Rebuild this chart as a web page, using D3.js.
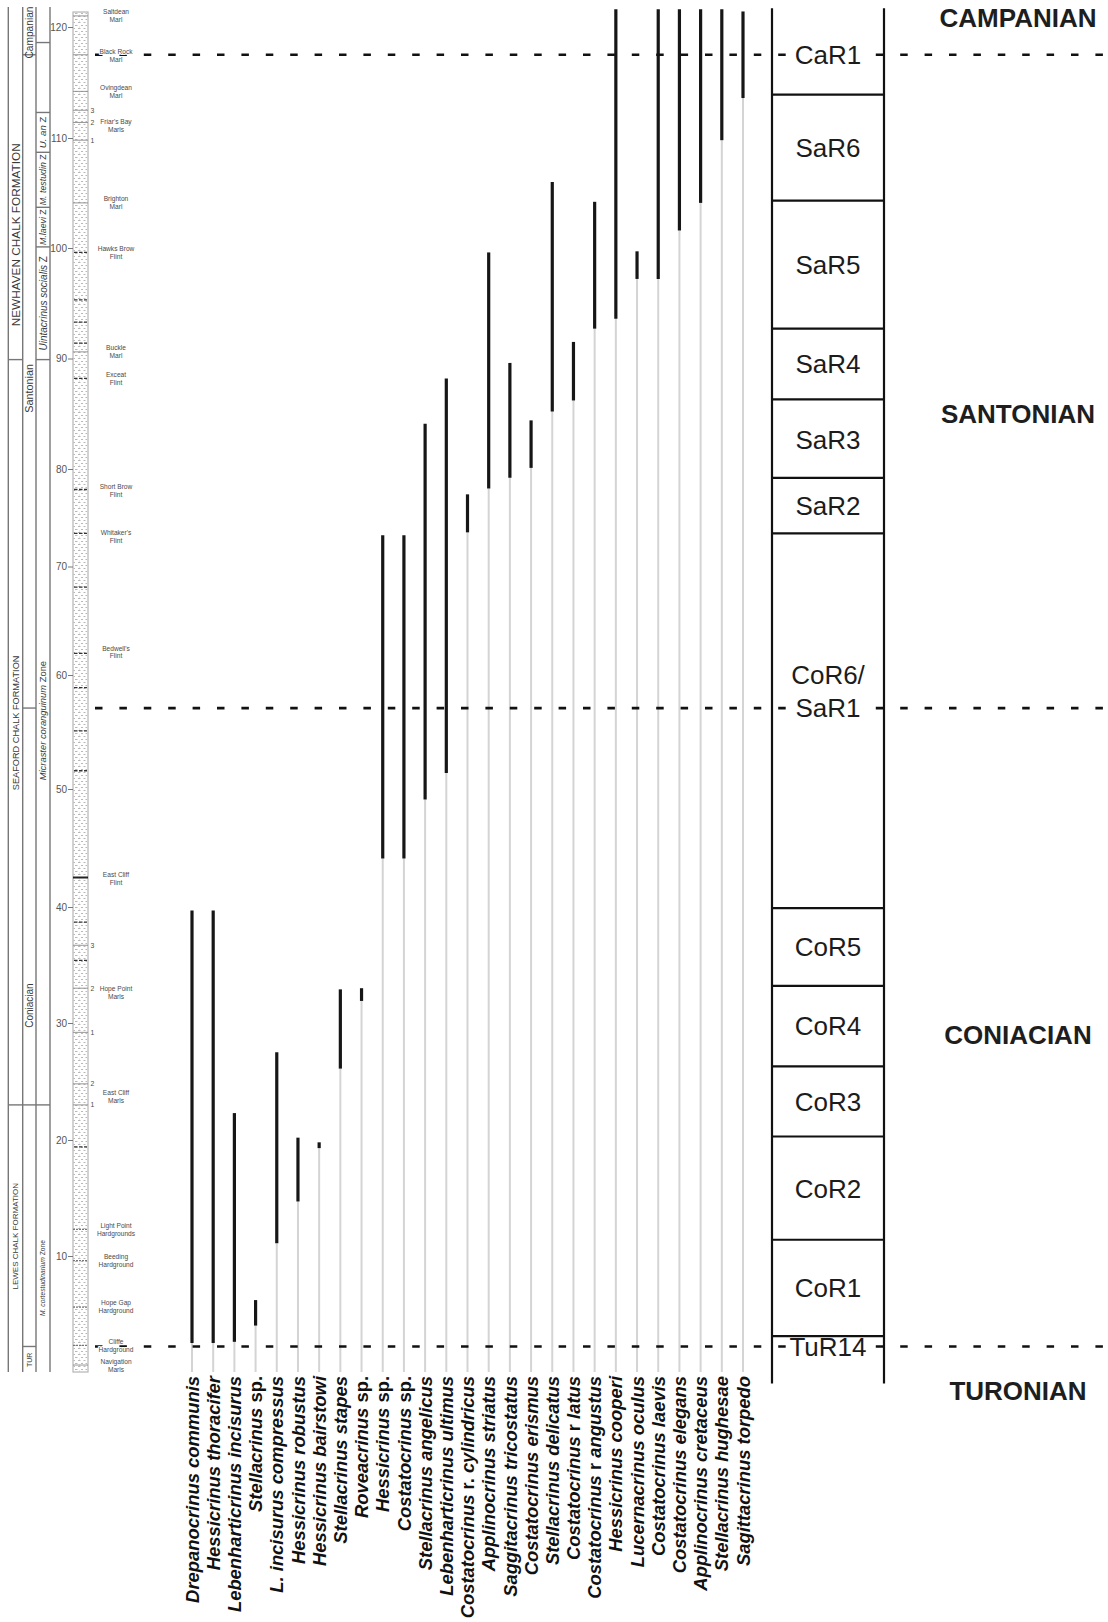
<!DOCTYPE html>
<html>
<head>
<meta charset="utf-8">
<script src="https://cdn.jsdelivr.net/npm/d3@7"></script>
<style>
  html, body { margin: 0; padding: 0; background: #fff; }
  svg { display: block; }
</style>
</head>
<body>
<svg id="chart" width="1108" height="1622"></svg>
<script>
// ---------------------------------------------------------------
// Crinoid range chart, Upper Cretaceous chalk of the Sussex coast
// Depths are metres above the base of the logged section.
// ---------------------------------------------------------------

// Taxa, in range-chart order
const species = [
  "Drepanocrinus communis", "Hessicrinus thoracifer", "Lebenharticrinus incisurus",
  "Stellacrinus sp.", "L. incisurus compressus", "Hessicrinus robustus",
  "Hessicrinus bairstowi", "Stellacrinus stapes", "Roveacrinus sp.",
  "Hessicrinus sp.", "Costatocrinus sp.", "Stellacrinus angelicus",
  "Lebenharticrinus ultimus", "Costatocrinus r. cylindricus", "Applinocrinus striatus",
  "Saggitacrinus tricostatus", "Costatocrinus erismus", "Stellacrinus delicatus",
  "Costatocrinus r latus", "Costatocrinus r angustus", "Hessicrinus cooperi",
  "Lucernacrinus oculus", "Costatocrinus laevis", "Costatocrinus elegans",
  "Applinocrinus cretaceus", "Stellacrinus hughesae", "Sagittacrinus torpedo"
];
// Lowest and highest occurrence of each taxon (m)
const firstOccurrence = [
  2.5, 2.5, 2.6, 4.0, 11.1, 14.7, 19.3, 26.1, 31.9,
  44.1, 44.1, 49.1, 51.4, 73.5, 78.0, 79.1, 80.1, 85.2,
  86.2, 92.7, 93.6, 97.2, 97.2, 101.6, 104.1, 109.8, 113.6
];
const lastOccurrence = [
  39.7, 39.7, 22.3, 6.2, 27.5, 20.2, 19.8, 32.9, 33.0,
  73.2, 73.2, 84.1, 88.2, 77.4, 99.6, 89.6, 84.4, 106.0,
  91.5, 104.2, 121.6, 99.7, 121.6, 121.6, 121.6, 121.6, 121.4
];

// Depth axis
const depthTicks = [0, 10, 20, 30, 40, 50, 60, 70, 80, 90, 100, 110, 120];
const sectionTop = 121.7;
const sectionBase = 0;

// Crinoid biozones (top to bottom) and the base of each
const zoneNames = ["CaR1", "SaR6", "SaR5", "SaR4", "SaR3", "SaR2", "CoR6/SaR1",
                   "CoR5", "CoR4", "CoR3", "CoR2", "CoR1", "TuR14"];
const zoneBases = [113.9, 104.3, 92.7, 86.3, 79.1, 73.4, 39.9,
                   33.2, 26.3, 20.3, 11.4, 3.1, -1.0];

// Stages and stage boundaries
const stageNames = ["CAMPANIAN", "SANTONIAN", "CONIACIAN", "TURONIAN"];
const stageBoundaries = [117.5, 57.1, 2.2];

// Lithostratigraphy and macrofossil zones of the log
const formationNames = ["NEWHAVEN CHALK FORMATION", "SEAFORD CHALK FORMATION", "LEWES CHALK FORMATION"];
const formationBoundaries = [89.9, 23.0];
const logStageNames = ["Campanian", "Santonian", "Coniacian", "TUR"];
const logStageBoundaries = [117.5, 57.1, 23.0, 2.2];
const logZoneNames = ["U. an Z", "M. testudin Z", "M.laevi Z", "Uintacrinus socialis Z",
                      "Micraster coranguinum Zone", "M. cortestudinarium Zone"];
const logZoneBoundaries = [118.6, 112.3, 108.7, 103.7, 100.1, 89.9, 23.0];

// Named marker beds
const bedNames = [
  ["Saltdean", "Marl"], ["Black Rock", "Marl"], ["Ovingdean", "Marl"], ["Friar's Bay", "Marls"],
  ["Brighton", "Marl"], ["Hawks Brow", "Flint"], ["Buckle", "Marl"], ["Exceat", "Flint"],
  ["Short Brow", "Flint"], ["Whitaker's", "Flint"], ["Bedwell's", "Flint"], ["East Cliff", "Flint"],
  ["Hope Point", "Marls"], ["East Cliff", "Marls"], ["Light Point", "Hardgrounds"],
  ["Beeding", "Hardground"], ["Hope Gap", "Hardground"], ["Cliffe", "Hardground"], ["Navigation", "Marls"]
];
const bedDepths = [121.0, 117.4, 114.2, 111.1, 104.1, 99.6, 90.6, 88.2, 77.8, 73.1, 62.1, 42.4,
                   32.6, 23.7, 12.3, 9.6, 5.6, 2.3, 0.55];
// Numbered marl seams within the marl sets
const seamNumbers = ["3", "2", "1", "3", "2", "1", "2", "1"];
const seamDepths = [112.5, 111.4, 109.8, 36.7, 33.0, 29.2, 24.8, 23.0];

// Lithology of the log
const flintDepths = [99.6, 95.3, 93.3, 91.4, 88.2, 77.9, 73.4, 68.1, 62.0, 58.9, 55.1, 51.6,
                     38.7, 35.4, 19.4];
const marlDepths = [121.0, 117.5, 114.2, 112.5, 111.4, 109.8, 104.1, 90.6, 36.7, 33.0, 29.2,
                    24.8, 23.0, 0.6];
const hardgroundDepths = [12.3, 9.6, 5.6, 2.3];
const majorFlintDepths = [42.5];

// ---------------------------------------------------------------
// Layout
// ---------------------------------------------------------------
const W = 1108, H = 1622;
const FONT = "'Liberation Sans', Arial, Helvetica, sans-serif";
const svg = d3.select("#chart");
svg.append("rect").attr("width", W).attr("height", H).attr("fill", "#fff");

// The logged section is drawn at a slightly uneven vertical scale,
// so depth is mapped piecewise through the tick rows of the log.
const tickRows = [1372, 1256, 1140, 1023, 907, 789, 675, 566.5, 469, 358.5, 248, 138, 27];
const y = d3.scaleLinear().domain(depthTicks).range(tickRows);

const x = d3.scalePoint().domain(species).range([192, 743]);

const logX = { formation: [8.3, 22.7], stage: [22.7, 36], zone: [36, 50], lith: [73, 88] };
const zoneCol = [772, 884];
const stageLabelX = 1018;
const stageLabelDepth = [120.8, 85.0, 29.0, -1.6];
const formationLabelDepth = [101.2, 55.8, 11.7];
const formationLabelSize = [11.8, 9.2, 8];
const logStageLabelDepth = [119.5, 87.3, 31.5, 1.05];
const logStageLabelSize = [10.2, 10.8, 10, 7];
const logZoneLabelDepth = [110.5, 106.2, 101.9, 95.0, 56.0, 8.1];
const logZoneLabelSize = [9.6, 8.8, 8.8, 10, 9.4, 6.7];

// ---------------------------------------------------------------
// Left-hand log: formations, stages, macrofossil zones
// ---------------------------------------------------------------
const log = svg.append("g").attr("font-family", FONT);
const colEdges = [logX.formation[0], logX.formation[1], logX.stage[1], logX.zone[1]];
log.selectAll("line.colEdge").data(colEdges).join("line")
  .attr("class", "colEdge")
  .attr("x1", d => d).attr("x2", d => d)
  .attr("y1", 7).attr("y2", y(sectionBase))
  .attr("stroke", "#777").attr("stroke-width", 1.4);

function hLines(cls, depths, span) {
  log.selectAll("line." + cls).data(depths).join("line")
    .attr("class", cls)
    .attr("x1", span[0]).attr("x2", span[1])
    .attr("y1", d => y(d)).attr("y2", d => y(d))
    .attr("stroke", "#777").attr("stroke-width", 1.4);
}
hLines("fmB", formationBoundaries, logX.formation);
hLines("stB", logStageBoundaries, logX.stage);
hLines("znB", logZoneBoundaries, logX.zone);

function rotatedLabels(cls, names, depths, sizes, span, styler) {
  const cx = (span[0] + span[1]) / 2;
  const t = log.selectAll("text." + cls).data(names).join("text")
    .attr("class", cls)
    .attr("transform", (d, i) => `translate(${cx},${y(depths[i])}) rotate(-90)`)
    .attr("text-anchor", "middle")
    .attr("dy", "0.36em")
    .attr("font-size", (d, i) => sizes[i])
    .attr("fill", "#3a3a3a");
  if (styler) styler(t); else t.text(d => d);
}
rotatedLabels("fm", formationNames, formationLabelDepth, formationLabelSize, logX.formation);
rotatedLabels("st", logStageNames, logStageLabelDepth, logStageLabelSize, logX.stage);
rotatedLabels("zn", logZoneNames, logZoneLabelDepth, logZoneLabelSize, logX.zone, sel => {
  sel.each(function(d) {
    const node = d3.select(this);
    // zone index (letter "Z"/"Zone") upright, taxon part in italics
    const m = d.match(/^(.*?)( Z| Zone)$/);
    node.append("tspan").attr("font-style", "italic").text(m[1]);
    node.append("tspan").text(m[2]);
  });
});

// ---------------------------------------------------------------
// Lithological log with depth axis
// ---------------------------------------------------------------
const defs = svg.append("defs");
const pat = defs.append("pattern").attr("id", "chalk")
  .attr("patternUnits", "userSpaceOnUse").attr("width", 15).attr("height", 6)
  .attr("x", logX.lith[0]).attr("y", 0);
pat.append("path").attr("d", "M2,1.5h2.5M8,1.5h2M12.5,1.5h1.5M0.5,4.5h1.5M5,4.5h2.5M10.5,4.5h2")
  .attr("stroke", "#9a9a9a").attr("stroke-width", 0.7);
pat.append("circle").attr("cx", 6.5).attr("cy", 3).attr("r", 0.45).attr("fill", "#aaa");

const lith = svg.append("g");
const lw = logX.lith[1] - logX.lith[0];
lith.append("rect")
  .attr("x", logX.lith[0]).attr("y", y(121.35))
  .attr("width", lw).attr("height", y(sectionBase) - y(121.35))
  .attr("fill", "url(#chalk)").attr("stroke", "#b5b5b5").attr("stroke-width", 1.2);
lith.selectAll("line.marl").data(marlDepths).join("line")
  .attr("class", "marl")
  .attr("x1", logX.lith[0]).attr("x2", logX.lith[1])
  .attr("y1", d => y(d)).attr("y2", d => y(d))
  .attr("stroke", "#8a8a8a").attr("stroke-width", 0.9);
lith.selectAll("line.hg").data(hardgroundDepths).join("line")
  .attr("class", "hg")
  .attr("x1", logX.lith[0]).attr("x2", logX.lith[1])
  .attr("y1", d => y(d)).attr("y2", d => y(d))
  .attr("stroke", "#777").attr("stroke-width", 1.2).attr("stroke-dasharray", "2,1");
lith.selectAll("line.flint").data(flintDepths).join("line")
  .attr("class", "flint")
  .attr("x1", logX.lith[0] + 1).attr("x2", logX.lith[1] - 1)
  .attr("y1", d => y(d)).attr("y2", d => y(d))
  .attr("stroke", "#333").attr("stroke-width", 1.3).attr("stroke-dasharray", "3.5,1.5");
lith.selectAll("line.bigflint").data(majorFlintDepths).join("line")
  .attr("class", "bigflint")
  .attr("x1", logX.lith[0]).attr("x2", logX.lith[1])
  .attr("y1", d => y(d)).attr("y2", d => y(d))
  .attr("stroke", "#222").attr("stroke-width", 2);

const axis = d3.axisLeft(y)
  .tickValues(depthTicks.filter(d => d > 0))
  .tickSize(5).tickPadding(1)
  .tickFormat(d3.format("d"));
const gAxis = svg.append("g").attr("transform", `translate(${logX.lith[0]},0)`).call(axis);
gAxis.select(".domain").remove();
gAxis.selectAll("line").attr("stroke", "#777");
gAxis.selectAll("text").attr("font-family", FONT).attr("font-size", 10).attr("fill", "#555");

// ---------------------------------------------------------------
// Range chart
// ---------------------------------------------------------------
const rows = species.map((name, i) => ({ name, first: firstOccurrence[i], last: lastOccurrence[i] }));
const chart = svg.append("g");

// guide from the base of the section to the first occurrence
chart.selectAll("line.guide").data(rows).join("line")
  .attr("class", "guide")
  .attr("x1", d => x(d.name)).attr("x2", d => x(d.name))
  .attr("y1", y(sectionBase)).attr("y2", d => y(d.first))
  .attr("stroke", "#d4d4d4").attr("stroke-width", 2);

// observed stratigraphic range
chart.selectAll("line.range").data(rows).join("line")
  .attr("class", "range")
  .attr("x1", d => x(d.name)).attr("x2", d => x(d.name))
  .attr("y1", d => y(d.first)).attr("y2", d => y(d.last))
  .attr("stroke", "#161616").attr("stroke-width", 3.2);

// taxon names; open nomenclature and subspecies markers set upright
const labels = chart.selectAll("text.taxon").data(rows).join("text")
  .attr("class", "taxon")
  .attr("transform", d => `translate(${x(d.name)},1376) rotate(-90)`)
  .attr("text-anchor", "end")
  .attr("dy", "0.36em")
  .attr("font-family", FONT)
  .attr("font-size", 18.4)
  .attr("font-weight", "bold")
  .attr("fill", "#111");
labels.each(function(d) {
  const t = d3.select(this);
  d.name.split(" ").forEach((w, k) => {
    const upright = (w === "sp." || w === "r." || w === "r");
    t.append("tspan")
      .attr("font-style", upright ? "normal" : "italic")
      .text((k > 0 ? " " : "") + w);
  });
});

// stage boundaries
svg.append("g").selectAll("line").data(stageBoundaries).join("line")
  .attr("x1", 95).attr("x2", W)
  .attr("y1", d => y(d)).attr("y2", d => y(d))
  .attr("stroke", "#111").attr("stroke-width", 2.7)
  .attr("stroke-dasharray", "7.5,16.9");

// marker bed names, haloed so the boundary dashes do not cut them
const beds = svg.append("g").attr("font-family", FONT).attr("font-size", 6.6).attr("fill", "#4a4a4a")
  .attr("stroke", "#fff").attr("stroke-width", 2.2).attr("paint-order", "stroke")
  .attr("stroke-linejoin", "round");
beds.selectAll("text").data(bedNames).join("text")
  .attr("x", 116)
  .attr("y", (d, i) => y(bedDepths[i]))
  .attr("text-anchor", "middle")
  .each(function(d) {
    const t = d3.select(this);
    t.append("tspan").attr("x", 116).attr("dy", "-0.25em").text(d[0]);
    t.append("tspan").attr("x", 116).attr("dy", "1.2em").text(d[1]);
  });
svg.append("g").attr("font-family", FONT).attr("font-size", 6.8).attr("fill", "#4a4a4a")
  .selectAll("text").data(seamNumbers).join("text")
  .attr("x", 90.5).attr("y", (d, i) => y(seamDepths[i])).attr("dy", "0.35em")
  .text(d => d);

// ---------------------------------------------------------------
// Crinoid zone column
// ---------------------------------------------------------------
const zones = zoneNames.map((name, i) => ({
  name, base: zoneBases[i], top: i === 0 ? sectionTop : zoneBases[i - 1]
}));
const zc = svg.append("g").attr("font-family", FONT);
zc.selectAll("line.wall").data(zoneCol).join("line")
  .attr("class", "wall")
  .attr("x1", d => d).attr("x2", d => d)
  .attr("y1", y(sectionTop)).attr("y2", y(zoneBases[zoneBases.length - 1]))
  .attr("stroke", "#111").attr("stroke-width", 2.2);
zc.selectAll("line.zb").data(zoneBases.slice(0, -1)).join("line")
  .attr("class", "zb")
  .attr("x1", zoneCol[0]).attr("x2", zoneCol[1])
  .attr("y1", d => y(d)).attr("y2", d => y(d))
  .attr("stroke", "#111").attr("stroke-width", 2.2);

const zcx = (zoneCol[0] + zoneCol[1]) / 2;
zones.forEach(z => {
  // a zone straddling a stage boundary is labelled on that boundary
  const b = stageBoundaries.find(s => s < z.top && s > z.base);
  const parts = z.name.includes("/") ? [z.name.split("/")[0] + "/", z.name.split("/")[1]] : [z.name];
  const yLab = b !== undefined ? y(b) : y((z.top + z.base) / 2);
  const t = zc.append("text")
    .attr("text-anchor", "middle")
    .attr("font-size", 26)
    .attr("fill", "#1c1c1c");
  parts.forEach((p, k) => {
    t.append("tspan").attr("x", zcx)
      .attr("y", yLab - (parts.length - 1 - k) * 33)
      .attr("dy", "0.36em")
      .text(p);
  });
  if (b !== undefined) {
    // clear the dashed boundary behind the label only
    const last = t.select("tspan:last-child").node().getBBox();
    zc.insert("rect", "text")
      .attr("x", last.x - 1).attr("y", y(b) - 3)
      .attr("width", last.width + 2).attr("height", 6)
      .attr("fill", "#fff");
  }
});

// stage names
svg.append("g").selectAll("text").data(stageNames).join("text")
  .attr("x", stageLabelX)
  .attr("y", (d, i) => y(stageLabelDepth[i]))
  .attr("dy", "0.36em")
  .attr("text-anchor", "middle")
  .attr("font-family", FONT)
  .attr("font-weight", "bold")
  .attr("font-size", 26)
  .attr("fill", "#1e1e1e")
  .text(d => d);
</script>
</body>
</html>
